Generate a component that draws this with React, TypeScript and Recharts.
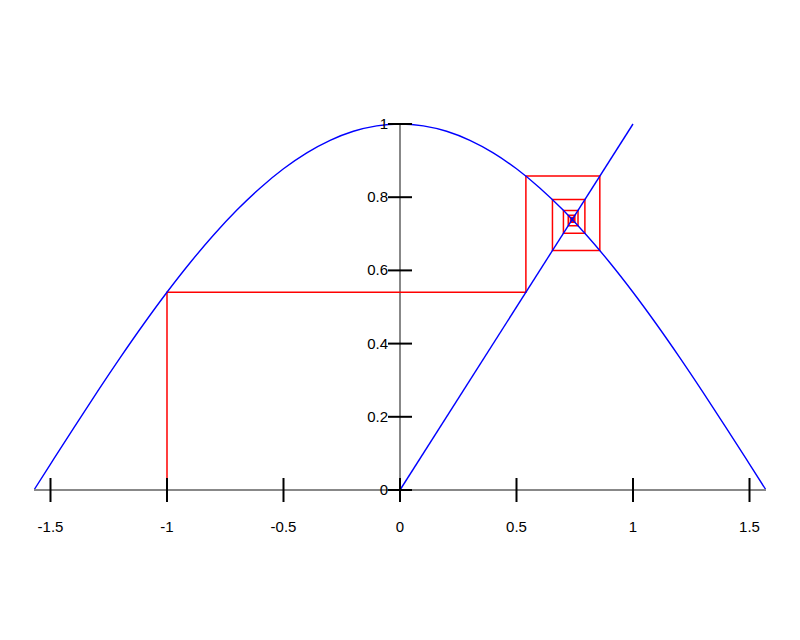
import { ComposedChart, Line, XAxis, YAxis, ReferenceLine } from 'recharts';

// cos(x) curve
const cosX = [-1.5708, -1.5, -1.4, -1.3, -1.2, -1.1, -1.0, -0.9, -0.8, -0.7, -0.6, -0.5, -0.4, -0.3, -0.2, -0.1, 0,
  0.1, 0.2, 0.3, 0.4, 0.5, 0.6, 0.7, 0.8, 0.9, 1.0, 1.1, 1.2, 1.3, 1.4, 1.5, 1.5708];
const cosY = [0, 0.0707, 0.17, 0.2675, 0.3624, 0.4536, 0.5403, 0.6216, 0.6967, 0.7648, 0.8253, 0.8776, 0.9211, 0.9553, 0.9801, 0.995, 1,
  0.995, 0.9801, 0.9553, 0.9211, 0.8776, 0.8253, 0.7648, 0.6967, 0.6216, 0.5403, 0.4536, 0.3624, 0.2675, 0.17, 0.0707, 0];

// y = x
const diagX = [0, 1];
const diagY = [0, 1];

// iterates of the cobweb, starting at -1
const iterates = [-1, 0.5403, 0.8576, 0.6543, 0.7935, 0.7014, 0.764, 0.7221, 0.7504, 0.7314, 0.7442, 0.7356, 0.7414, 0.7375, 0.7401, 0.7384, 0.7396, 0.7388];

const xTicks = [-1.5, -1, -0.5, 0, 0.5, 1, 1.5];
const yTicks = [0, 0.2, 0.4, 0.6, 0.8, 1];

const cosData = cosX.map((x, i) => ({ x, y: cosY[i] }));
const diagData = diagX.map((x, i) => ({ x, y: diagY[i] }));
const cobweb: { x: number; y: number }[] = [{ x: iterates[0], y: 0 }];
for (let k = 0; k < iterates.length - 1; k++) {
  cobweb.push({ x: iterates[k], y: iterates[k + 1] });
  cobweb.push({ x: iterates[k + 1], y: iterates[k + 1] });
}

const W = 784;
const H = 624;
const X_AXIS_H = 60;
const Y_AXIS_W = 20;
// plot area: left 26, right 758, top 116, bottom 482 (svg coords)
const M = { top: 116, right: 26, bottom: 142 - X_AXIS_H, left: 26 - Y_AXIS_W };
const HALF = (W - 26 - 26) / 2;
const FONT = '"Liberation Sans", Arial, sans-serif';

const XTick = ({ x, y, payload }: any) => (
  <g>
    <line x1={x} x2={x} y1={y - 12} y2={y + 12} stroke="#000" strokeWidth={2} />
    <text x={x} y={y + 42} textAnchor="middle" fontSize={15} fontFamily={FONT} fill="#000">
      {payload.value}
    </text>
  </g>
);

const YTick = ({ x, y, payload }: any) => {
  const cx = x + HALF;
  return (
    <g>
      <line x1={cx - 12} x2={cx + 12} y1={y} y2={y} stroke="#000" strokeWidth={2} />
      <text x={cx - 12} y={y + 5} textAnchor="end" fontSize={15} fontFamily={FONT} fill="#000">
        {payload.value}
      </text>
    </g>
  );
};

export default function App() {
  return (
    <ComposedChart width={W} height={H} margin={M}>
      <ReferenceLine x={0} stroke="#888" strokeWidth={2} />
      <Line data={cobweb} dataKey="y" type="linear" stroke="#ff0000" strokeWidth={1.5} dot={false} isAnimationActive={false} />
      <Line data={cosData} dataKey="y" type="monotone" stroke="#0000ff" strokeWidth={1.4} dot={false} isAnimationActive={false} />
      <Line data={diagData} dataKey="y" type="linear" stroke="#0000ff" strokeWidth={1.4} dot={false} isAnimationActive={false} />
      <XAxis
        dataKey="x"
        type="number"
        domain={[-1.5708, 1.5708]}
        ticks={xTicks}
        height={X_AXIS_H}
        tickSize={0}
        tickMargin={0}
        tickLine={false}
        axisLine={{ stroke: '#888', strokeWidth: 2 }}
        tick={<XTick />}
        interval={0}
        allowDataOverflow
      />
      <YAxis
        type="number"
        domain={[0, 1]}
        ticks={yTicks}
        width={Y_AXIS_W}
        tickSize={0}
        tickMargin={0}
        tickLine={false}
        axisLine={false}
        tick={<YTick />}
        interval={0}
      />
    </ComposedChart>
  );
}
